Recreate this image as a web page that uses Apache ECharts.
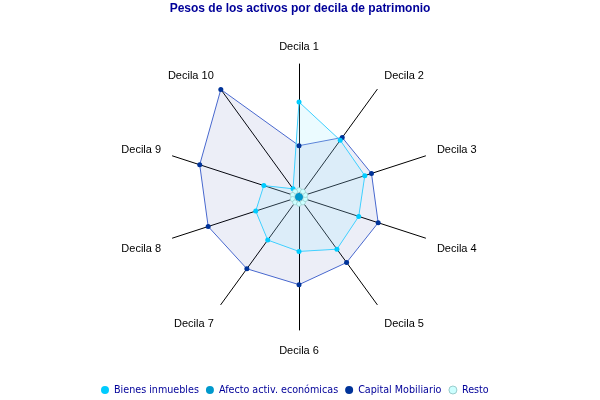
<!DOCTYPE html>
<html>
<head>
<meta charset="utf-8">
<script src="https://cdn.jsdelivr.net/npm/echarts@6/dist/echarts.min.js"></script>
<style>
  html, body { margin: 0; padding: 0; background: #fff; }
  #chart { width: 600px; height: 400px; }
</style>
</head>
<body>
<div id="chart"></div>
<script>
// deciles, clockwise from the top
const deciles = ['Decila 1', 'Decila 2', 'Decila 3', 'Decila 4', 'Decila 5',
                 'Decila 6', 'Decila 7', 'Decila 8', 'Decila 9', 'Decila 10'];

const bienesInmuebles   = [71.4, 52.7, 52.0, 47.2, 48.5, 40.9, 40.0, 34.2, 27.8, 7.6];
const afectoActividades = [1.2, 1.0, 1.0, 1.0, 1.0, 1.0, 1.0, 1.0, 1.0, 1.2];
const capitalMobiliario = [38.6, 55.3, 57.3, 62.6, 60.9, 65.9, 66.7, 71.8, 78.5, 100];
const resto             = [5.2, 5.0, 5.0, 5.0, 5.0, 5.2, 5.0, 5.0, 5.0, 5.0];

const maxValue = 100;

// echarts lays radar indicators out counter-clockwise, so flip the order
// (keeping Decila 1 on top) to get them clockwise like the original
function clockwise(arr) {
    return [arr[0]].concat(arr.slice(1).reverse());
}

// label nudges per ring position (index 0 = top, going clockwise)
const labelStyleKey = ['top', 'd36', 'd72', 'd108', 'd144', 'bot', 'd144', 'd108', 'd72', 'd36'];
const labelFont = { fontFamily: 'Liberation Sans', fontSize: 11, color: '#000000' };

const chart = echarts.init(document.getElementById('chart'));

const option = {
    animation: false,
    title: {
        text: 'Pesos de los activos por decila de patrimonio',
        left: 'center',
        top: -2,
        textStyle: { fontFamily: 'Liberation Sans', fontSize: 12, fontWeight: 'bold', color: '#000099' }
    },
    legend: {
        top: 385,
        left: 101,
        icon: 'circle',
        itemWidth: 8,
        itemHeight: 8,
        itemGap: 7,
        padding: 0,
        textStyle: { fontFamily: 'DejaVu Sans', fontSize: 9.6, color: '#000099' },
        data: [
            { name: 'Bienes inmuebles' },
            { name: 'Afecto activ. económicas' },
            { name: 'Capital Mobiliario' },
            { name: 'Resto', itemStyle: { color: '#ccffff', borderColor: '#99cccc', borderWidth: 1 } }
        ]
    },
    radar: {
        center: [299, 197],
        radius: 133,
        startAngle: 90,
        shape: 'polygon',
        splitNumber: 1,
        nameGap: 12,
        axisName: {
            color: '#000000',
            fontFamily: 'Liberation Sans',
            fontSize: 11,
            formatter: function (name) {
                return '{' + labelStyleKey[deciles.indexOf(name)] + '|' + name + '}';
            },
            rich: {
                top:  Object.assign({ padding: [0, 0, 0, 0] }, labelFont),
                d36:  Object.assign({ padding: [0, 0, 8, 0] }, labelFont),
                d72:  Object.assign({ padding: [0, 0, 4, 0] }, labelFont),
                d108: Object.assign({ padding: [14, 0, 0, 0] }, labelFont),
                d144: Object.assign({ padding: [20, 0, 0, 0] }, labelFont),
                bot:  Object.assign({ padding: [3, 0, 0, 0] }, labelFont)
            }
        },
        axisLine: { lineStyle: { color: '#000000', width: 1 } },
        splitLine: { show: false },
        splitArea: { show: false },
        indicator: clockwise(deciles).map(function (d) { return { name: d, max: maxValue }; })
    },
    series: [{
        type: 'radar',
        symbol: 'circle',
        symbolSize: 5,
        data: [
            {
                name: 'Capital Mobiliario',
                value: clockwise(capitalMobiliario),
                itemStyle: { color: '#003399' },
                lineStyle: { color: '#4a6ad0', width: 1 },
                areaStyle: { color: 'rgba(40,60,160,0.12)' }
            },
            {
                name: 'Bienes inmuebles',
                value: clockwise(bienesInmuebles),
                itemStyle: { color: '#00ccff' },
                lineStyle: { color: '#33ccff', width: 1 },
                areaStyle: { color: 'rgba(160,235,255,0.3)' }
            },
            {
                name: 'Afecto activ. económicas',
                value: clockwise(afectoActividades),
                itemStyle: { color: '#0099cc' },
                lineStyle: { color: '#0099cc', width: 1 },
                areaStyle: { color: 'rgba(0,153,204,0.3)' }
            },
            {
                name: 'Resto',
                value: clockwise(resto),
                itemStyle: { color: '#ccffff', borderColor: '#88bbbb', borderWidth: 0.5 },
                lineStyle: { color: '#aadddd', width: 1 },
                areaStyle: { color: 'rgba(204,255,255,0.4)' }
            }
        ]
    }]
};

chart.setOption(option);
</script>
</body>
</html>
